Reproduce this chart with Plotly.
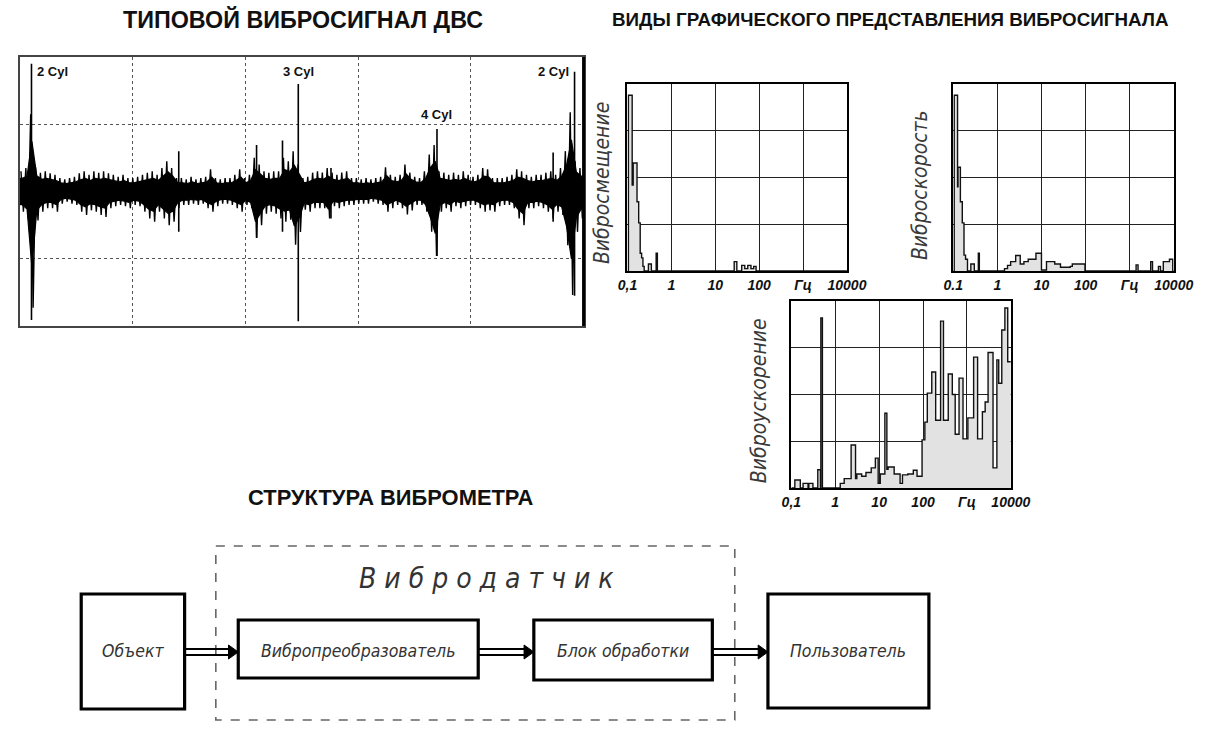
import plotly.graph_objects as go

W, H = 1223, 753

# ---------------- data ----------------
# Typical engine vibration signal: envelope per time bin (divisions 0..5)
WAVE_UP = [0.30, 0.35, 1.15, 0.36, 0.28, 0.30, 0.27, 0.25, 0.20, 0.18,
           0.20, 0.22, 0.27, 0.30, 0.25, 0.30, 0.28, 0.30, 0.27, 0.25,
           0.22, 0.25, 0.20, 0.20, 0.22, 0.25, 0.28, 0.30, 0.25, 0.35,
           0.45, 0.35, 0.20, 0.20, 0.18, 0.22, 0.18, 0.20, 0.22, 0.33,
           0.20, 0.18, 0.20, 0.20, 0.25, 0.33, 0.20, 0.25, 0.50, 0.40,
           0.30, 0.28, 0.30, 0.30, 0.50, 0.45, 0.60, 0.40, 0.20, 0.22,
           0.28, 0.30, 0.28, 0.35, 0.28, 0.25, 0.28, 0.30, 0.20, 0.20,
           0.18, 0.20, 0.18, 0.20, 0.22, 0.36, 0.25, 0.22, 0.25, 0.40,
           0.28, 0.22, 0.20, 0.30, 0.55, 0.69, 0.30, 0.28, 0.25, 0.28,
           0.25, 0.30, 0.25, 0.22, 0.25, 0.35, 0.33, 0.20, 0.20, 0.20,
           0.22, 0.25, 0.33, 0.30, 0.25, 0.22, 0.25, 0.25, 0.28, 0.30,
           0.25, 0.35, 0.60, 1.18, 0.45, 0.35]
WAVE_DN = [0.30, 0.40, 1.73, 0.43, 0.30, 0.25, 0.25, 0.30, 0.18, 0.15,
           0.18, 0.20, 0.30, 0.35, 0.28, 0.30, 0.35, 0.38, 0.25, 0.22,
           0.20, 0.22, 0.25, 0.20, 0.22, 0.30, 0.40, 0.45, 0.30, 0.40,
           0.50, 0.45, 0.25, 0.20, 0.20, 0.18, 0.20, 0.18, 0.25, 0.30,
           0.22, 0.18, 0.18, 0.20, 0.25, 0.30, 0.20, 0.25, 0.69, 0.50,
           0.33, 0.30, 0.33, 0.40, 0.45, 0.42, 0.79, 0.60, 0.27, 0.30,
           0.25, 0.25, 0.25, 0.40, 0.22, 0.25, 0.22, 0.20, 0.20, 0.18,
           0.18, 0.18, 0.15, 0.18, 0.20, 0.30, 0.25, 0.20, 0.25, 0.34,
           0.28, 0.20, 0.20, 0.30, 0.60, 0.96, 0.30, 0.25, 0.30, 0.22,
           0.25, 0.22, 0.20, 0.20, 0.25, 0.30, 0.28, 0.30, 0.22, 0.20,
           0.20, 0.25, 0.40, 0.50, 0.25, 0.25, 0.22, 0.25, 0.30, 0.40,
           0.30, 0.35, 0.80, 1.54, 0.60, 0.40]
SPIKE_T = [0.104, 1.41, 2.10, 2.33, 2.47, 2.76, 3.70, 4.73, 4.92]
SPIKE_UP = [1.90, 0.60, 0.69, 0.76, 1.60, 0.35, 0.93, 0.58, 1.78]
SPIKE_DN = [1.91, 0.60, 0.69, 0.60, 1.93, 0.40, 0.96, 0.45, 1.55]
CYL_T = [0.104, 2.47, 3.70, 4.92]
CYL_LABELS = ["2 Cyl", "3 Cyl", "4 Cyl", "2 Cyl"]

# Spectra (frequency, amplitude) step data
DISP_F = [0.1, 0.105, 0.128, 0.135, 0.165, 0.18, 0.195, 0.21, 0.225, 0.24,
          0.30, 0.35, 0.45, 0.48, 27, 31, 40, 47, 55, 65, 75, 85, 10000]
DISP_A = [0, 3.76, 1.84, 2.31, 1.48, 1.03, 0.38, 0.28, 0.10, 0,
          0.15, 0, 0.38, 0, 0.20, 0, 0.12, 0.05, 0.12, 0.05, 0.10, 0, 0]

VEL_F = [0.1, 0.105, 0.125, 0.128, 0.145, 0.16, 0.175, 0.19, 0.21, 0.25,
         0.30, 0.37, 0.39, 1.45, 1.7, 2.0, 2.6, 3.3, 4.0, 5.0, 7.5, 10,
         13, 20, 27, 45, 50, 97, 1400, 1550, 3000, 3300, 4500, 5000, 5800,
         8000, 9500, 10000]
VEL_A = [0, 3.76, 1.80, 2.22, 1.48, 1.03, 0.34, 0.25, 0, 0.15,
         0, 0.38, 0, 0.05, 0.12, 0.20, 0.33, 0.15, 0.20, 0.25, 0.38, 0.02,
         0.20, 0.15, 0.08, 0.10, 0.15, 0, 0.13, 0, 0.20, 0, 0.10, 0, 0.20,
         0.25, 0, 0]

ACC_F = [0.1, 0.12, 0.16, 0.185, 0.24, 0.25, 0.31, 0.40, 0.46, 0.47,
         0.51, 1.3, 1.6, 2.3, 2.9, 3.1, 4.0, 5.0, 6.6, 8.2, 9.5, 10.6, 13.5,
         15, 16, 22, 30, 34, 45, 60, 73, 95, 110, 125, 158, 194, 251, 292,
         375, 464, 540, 661, 814, 1050, 1420, 1750, 2250, 2600, 3030, 3930,
         4810, 5300, 6220, 7320, 8500, 10000]
ACC_A = [0, 0.17, 0, 0.10, 0, 0.10, 0, 0.39, 0, 3.64,
         0, 0.10, 0.20, 0.92, 0.20, 0.30, 0.25, 0.33, 0.43, 0.64, 0.10, 0.30, 1.60,
         0.40, 0.45, 0.30, 0.10, 0.28, 0.30, 0.38, 0.25, 1.03, 1.41, 2.03, 2.48, 1.45, 3.57, 1.45,
         2.44, 2.00, 1.15, 2.35, 1.05, 1.50, 2.80, 1.05, 1.63, 1.84, 2.90, 0.43,
         2.74, 2.24, 3.38, 3.85, 2.70, 2.70]

FREQ_TICKS = [0.1, 1, 10, 100, 1000, 10000]
FREQ_TEXT_A = ["0,1", "1", "10", "100", "Гц", "10000"]
FREQ_TEXT_B = ["0.1", "1", "10", "100", "Гц", "10000"]
SPEC_LABELS = ["Вибросмещение", "Виброскорость", "Виброускорение"]

BLOCKS = ["Объект", "Вибропреобразователь", "Блок обработки", "Пользователь"]
SENSOR = "В и б р о д а т ч и к"
TITLES = ["ТИПОВОЙ ВИБРОСИГНАЛ ДВС",
          "ВИДЫ ГРАФИЧЕСКОГО ПРЕДСТАВЛЕНИЯ ВИБРОСИГНАЛА",
          "СТРУКТУРА ВИБРОМЕТРА"]

# ---------------- helpers ----------------
def px(x):
    return x / W


def py(y):
    return 1 - y / H


def dom_x(a, b):
    return [px(a), px(b)]


def dom_y(top, bottom):
    return [py(bottom), py(top)]


TITLE_FONT = "Liberation Sans, Arial"
GOST_FONT = "DejaVu Sans Condensed, DejaVu Sans, sans-serif"
CORE = 0.65   # share of the envelope drawn as a solid core (style only)

fig = go.Figure()

# ---------------- waveform ----------------
N = len(WAVE_UP)
xs = [(i + 0.5) * 5 / N for i in range(N)]
core_up = [CORE * u for u in WAVE_UP]
core_dn = [CORE * d for d in WAVE_DN]
poly_x = [0] + xs + [5, 5] + xs[::-1] + [0]
poly_y = [core_up[0]] + core_up + [core_up[-1], -core_dn[-1]] + [-d for d in core_dn[::-1]] + [-core_dn[0]]
fig.add_trace(go.Scatter(x=poly_x, y=poly_y, mode="lines", fill="toself",
                         fillcolor="black", line=dict(color="black", width=1.2),
                         xaxis="x", yaxis="y", hoverinfo="skip", showlegend=False))
# oscillating trace touching the envelope
q = 5 / N / 4
zx, zy = [], []
for x, u, d in zip(xs, WAVE_UP, WAVE_DN):
    zx += [x - q, x + q]
    zy += [u, -d]
fig.add_trace(go.Scatter(x=zx, y=zy, mode="lines", line=dict(color="black", width=1.4),
                         xaxis="x", yaxis="y", hoverinfo="skip", showlegend=False))
sx, sy = [], []
for t, u, d in zip(SPIKE_T, SPIKE_UP, SPIKE_DN):
    sx += [t, t, None]
    sy += [u, -d, None]
fig.add_trace(go.Scatter(x=sx, y=sy, mode="lines", line=dict(color="black", width=1.6),
                         xaxis="x", yaxis="y", hoverinfo="skip", showlegend=False))

# ---------------- spectra ----------------
for i, (F, A, ax) in enumerate([(DISP_F, DISP_A, "2"), (VEL_F, VEL_A, "3"), (ACC_F, ACC_A, "4")]):
    fig.add_trace(go.Scatter(x=F, y=A, mode="lines", fill="tozeroy",
                             fillcolor="#e2e2e2",
                             line=dict(color="#111", width=1.4, shape="hv"),
                             xaxis="x" + ax, yaxis="y" + ax, hoverinfo="skip", showlegend=False))

# ---------------- layout ----------------
layout = dict(
    width=W, height=H, margin=dict(l=0, r=0, t=0, b=0),
    paper_bgcolor="white", plot_bgcolor="white", showlegend=False,
    font=dict(family=TITLE_FONT, color="black"),
)

layout["xaxis"] = dict(domain=dom_x(10, 588), range=[0, 5], tickvals=[1, 2, 3, 4],
                       showticklabels=False, ticks="", showgrid=True, gridcolor="#555",
                       griddash="dot", gridwidth=1.2, zeroline=False,
                       showline=True, mirror=True, linecolor="#444", linewidth=2,
                       anchor="y")
layout["yaxis"] = dict(domain=dom_y(57, 326), range=[-2, 2], tickvals=[-1, 1],
                       showticklabels=False, ticks="", showgrid=True, gridcolor="#555",
                       griddash="dot", gridwidth=1.2, zeroline=False,
                       showline=True, mirror=True, linecolor="#444", linewidth=2,
                       anchor="x")

spec_boxes = [((633, 858), (84, 271), FREQ_TEXT_A),
              ((967, 1193), (84, 271), FREQ_TEXT_B),
              ((801, 1026), (301, 488), FREQ_TEXT_A)]
for k, ((xa, xb), (yt, yb), ttext) in enumerate(spec_boxes):
    n = str(k + 2)
    layout["xaxis" + n] = dict(domain=dom_x(xa, xb), type="log", range=[-1, 4],
                               tickvals=FREQ_TICKS, ticktext=["<b><i>%s</i></b>" % t for t in ttext],
                               ticks="",
                               tickfont=dict(family="Liberation Sans, Arial", size=14, color="#111"),
                               showgrid=True, gridcolor="#222", gridwidth=1.3,
                               zeroline=False, showline=True, mirror=True,
                               linecolor="black", linewidth=2, anchor="y" + n)
    layout["yaxis" + n] = dict(domain=dom_y(yt, yb), range=[0, 4], dtick=1,
                               showticklabels=False, ticks="",
                               showgrid=True, gridcolor="#222", gridwidth=1.3,
                               zeroline=False, showline=True, mirror=True,
                               linecolor="black", linewidth=2, anchor="x" + n)

annotations = []
shapes = []

# thick right edge of waveform frame
shapes.append(dict(type="line", xref="paper", yref="paper", x0=px(588), x1=px(588),
                   y0=py(57), y1=py(326), line=dict(color="black", width=3)))

# titles
for txt, (xx, yy), size in zip(TITLES, [(300, 20), (903, 20), (391, 497)], [23.3, 18.8, 21.9]):
    annotations.append(dict(text="<b>%s</b>" % txt, x=px(xx), y=py(yy), xref="paper", yref="paper",
                            showarrow=False, font=dict(size=size, family=TITLE_FONT, color="#111"),
                            xanchor="center", yanchor="middle"))

# cylinder labels
cyl_pos = [(1.78, "left", 0.03), (1.78, "center", 0), (1.14, "center", 0), (1.78, "right", -0.03)]
for t, lab, (yy, anch, dx) in zip(CYL_T, CYL_LABELS, cyl_pos):
    annotations.append(dict(text="<b>%s</b>" % lab, x=t + dx, y=yy, xref="x", yref="y",
                            showarrow=False, xanchor=anch, yanchor="middle",
                            font=dict(size=13, family="Liberation Sans, Arial", color="#111")))

# spectrum y labels
for lab, (xx, yy) in zip(SPEC_LABELS, [(607, 183), (933, 185), (768, 401)]):
    annotations.append(dict(text="<i>%s</i>" % lab, x=px(xx), y=py(yy), xref="paper", yref="paper",
                            showarrow=False, textangle=-90, xanchor="center", yanchor="middle",
                            font=dict(size=21, family=GOST_FONT, color="#3a3a3a")))

# ---------------- block diagram ----------------
shapes.append(dict(type="rect", xref="paper", yref="paper", x0=px(211), x1=px(743),
                   y0=py(546), y1=py(720), line=dict(color="#666", width=1.6, dash="dash")))
annotations.append(dict(text="<i>%s</i>" % SENSOR, x=px(488), y=py(578), xref="paper", yref="paper",
                        showarrow=False, xanchor="center", yanchor="middle",
                        font=dict(size=28, family=GOST_FONT, color="#333")))

boxes = [(73, 594, 179, 709), (234, 620, 480, 678), (537, 620, 720, 680), (777, 594, 942, 708)]
for (x0, y0, x1, y1), lab in zip(boxes, BLOCKS):
    shapes.append(dict(type="rect", xref="paper", yref="paper", x0=px(x0), x1=px(x1),
                       y0=py(y0), y1=py(y1), line=dict(color="black", width=3.2)))
    annotations.append(dict(text="<i>%s</i>" % lab, x=px((x0 + x1) / 2), y=py(651),
                            xref="paper", yref="paper", showarrow=False,
                            xanchor="center", yanchor="middle",
                            font=dict(size=17.5, family=GOST_FONT, color="#333")))

for xa, xb in [(179, 234), (480, 537), (720, 777)]:
    yc = 652
    for yy in (yc - 3, yc + 3):
        shapes.append(dict(type="line", xref="paper", yref="paper", x0=px(xa), x1=px(xb - 8),
                           y0=py(yy), y1=py(yy), line=dict(color="black", width=2)))
    shapes.append(dict(type="path", xref="paper", yref="paper",
                       path="M %f,%f L %f,%f L %f,%f Z" % (px(xb - 10), py(yc - 7), px(xb), py(yc),
                                                           px(xb - 10), py(yc + 7)),
                       fillcolor="black", line=dict(color="black", width=1)))

layout["annotations"] = annotations
layout["shapes"] = shapes
fig.update_layout(**layout)

fig.write_html("out.html")
